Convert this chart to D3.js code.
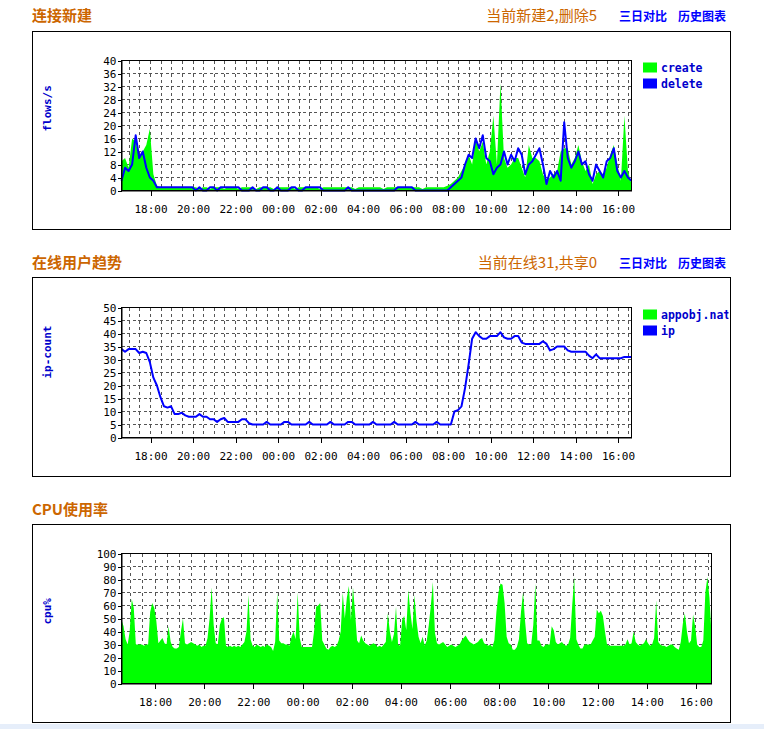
<!DOCTYPE html>
<html><head><meta charset="utf-8">
<script src="https://cdn.jsdelivr.net/npm/d3@7"></script>
<style>
body{margin:0;background:#fff;}
svg{display:block;}
</style></head><body>
<svg id="c" width="764" height="729"></svg>
<script>
// ---------- DATA ----------
const startTime = new Date(2024, 0, 1, 16, 38);
const stepMin10 = 10;   // minutes per sample (charts 1,2)
const stepMin5 = 5;     // minutes per sample (cpu)

const titles = ["连接新建", "在线用户趋势", "CPU使用率"];
const infoTexts = ["当前新建2,删除5", "当前在线31,共享0", ""];
const linkTexts = ["三日对比", "历史图表"];
const yLabels = ["flows/s", "ip-count", "cpu%"];
const yTicks1 = [0,4,8,12,16,20,24,28,32,36,40];
const yTicks2 = [0,5,10,15,20,25,30,35,40,45,50];
const yTicks3 = [0,10,20,30,40,50,60,70,80,90,100];
const legend1 = ["create", "delete"];
const legend2 = ["appobj.nat", "ip"];

const createVals = [9,10,7,16,15,10,12,14,19,5,1.5,
 1,1,1,1,1,1,1,1,1,1,
 1,0.5,1,1,0.5,1,1,1,0.5,1,
 1,1,0.5,1,1,1,1,0.5,1,1,
 1,1,0.5,1,1,1,1,1,0.5,1,
 1,1,1,1,1,0.5,1,1,1,1,
 1,1,1,1,1,0.5,1,1,1,1,
 1,1,1,0.5,1,1,1,1,1,1,
 1,1,1,1,0.5,1,1,1,1,1,
 1,1.5,
 2,3,4,6,8,11,8,16,12,15,
 8,12,23,8,33,10,7,8,10,10,
 7,4,14,10,10,9,5,3,4,5,
 6,12,13,13,8,10,14,9,6,8,
 2,5,6,5,7,11,14,8,3,23,
 6,2];

const deleteVals = [3,7,6,8,17,10,12,7,4,3,1,
 1,1,1,1,1,1,1,1,1,1,
 0,1,0,0,1,1,0,1,1,1,
 1,1,1,0,0,0,1,0,0,1,
 1,0,0,1,0,0,0,1,1,0,
 0,1,1,1,1,1,0,0,0,0,
 0,0,0,1,0,0,0,0,0,0,
 0,0,0,0,0,0,0,1,1,1,
 1,1,0,0,0,0,0,0,0,0,
 0,0,
 1,2,3,4,8,11,10,16,13,17,
 10,9,5,7,8,12,8,11,9,13,
 11,5,8,9,11,13,8,2,6,4,
 6,3,21,10,7,9,12,8,9,5,
 3,8,6,4,9,10,13,6,4,6,
 4,3];

const ipVals = [34,33,34,34,34,32.5,33,32.5,29,23,
 20,15.5,12,11.5,12,9,9,9.5,8.5,8,
 8,8,9,8,8,7,7,6,7,7.5,
 6,6,6,6,7,7,5.5,5,5,5,
 5,6,5,5,5,5,6,6,5,5,
 5,5,5,6,5,5,5,5,5,6,
 5,5,5,5,6,6,5,5,5,5,
 5,6,5,5,5,5,5,6,5,5,
 5,5,5,6,5,5,5,5,5,6,
 5,5,5,5,10,10.5,12,19,28,38,
 40.5,39,38,38,39,39,39,40.5,38.5,38,
 38,39,39,36.5,36,36,36,36,36,37,
 36,33.5,34,35,35,35,33.5,33,33,33,
 33,33,31.5,30.5,32,30.5,30.5,30.5,30.5,30.5,
 30.5,30.5,31,31,31];

const cpuVals = [49,44,34,30,40,65,58,30,30,30,
 30,29,30,30,55,62,58,48,31,33,
 35,31,30,44,32,28,27,27,28,40,
 50,31,30,31,32,31,30,29,30,28,
 29,29,35,50,74,45,31,30,45,50,
 51,29,28,29,28,29,28,29,28,30,
 32,40,68,34,29,28,30,29,28,29,
 28,30,29,28,25,32,70,33,31,31,
 30,30,29,36,40,34,70,35,28,28,
 28,28,28,28,40,59,60,62,33,30,
 27,26,28,29,28,29,33,40,70,50,
 66,75,49,74,55,33,31,37,33,31,
 30,29,30,31,30,28,29,28,30,32,
 54,40,32,38,59,30,29,49,52,41,
 72,55,42,68,48,36,31,36,29,33,
 45,60,78,39,31,30,31,32,30,28,
 29,30,29,28,29,30,33,35,37,34,
 32,31,30,31,32,34,35,31,30,29,
 30,28,33,55,70,77,76,62,36,31,
 30,26,26,28,34,55,70,48,31,30,
 30,45,77,33,33,29,28,30,30,30,
 44,41,32,30,31,32,30,29,30,35,
 60,82,34,30,27,27,30,30,30,30,
 33,36,57,54,56,52,40,30,29,29,
 29,29,29,29,29,29,30,34,30,31,
 40,32,30,29,30,31,34,31,29,30,
 35,64,32,30,29,29,28,29,30,30,
 28,27,26,32,46,54,40,31,33,53,
 44,30,28,28,33,70,82,66,38];

// ---------- LAYOUT / STYLE ----------
const COL = {orange:"#cc6600", link:"#0000ff", label:"#0000cc", green:"#00ff00", blue:"#0000ff", grid:"#555"};
const MONO = "'DejaVu Sans Mono', monospace";
const CJK = "'Noto Sans CJK SC', sans-serif";
const panels = [
  {boxTop:31.5, boxBottom:229.5, titleY:21, plotTop:60.5, plotBottom:190.5, plotRight:631.5, yMax:40, yTicks:yTicks1, legend:legend1},
  {boxTop:277.5, boxBottom:476.5, titleY:268, plotTop:307.5, plotBottom:437.5, plotRight:631.5, yMax:50, yTicks:yTicks2, legend:legend2},
  {boxTop:524.5, boxBottom:722.5, titleY:515, plotTop:553.5, plotBottom:683.5, plotRight:711.5, yMax:100, yTicks:yTicks3, legend:null}
];
const boxLeft = 32.5, boxRight = 730.5, plotLeft = 121.5;

const svg = d3.select("#c");
svg.append("rect").attr("x",0).attr("y",724).attr("width",764).attr("height",5).attr("fill","#e6eefa");

const endTime = d3.timeHour.offset(startTime, 24);
const toSeries = (vals, step) => vals.map((v,i)=>({t:d3.timeMinute.offset(startTime, i*step), v}));

const seriesSets = [
  {areas:[toSeries(createVals, stepMin10)], lines:[toSeries(deleteVals, stepMin10)]},
  {areas:[], lines:[toSeries(ipVals, stepMin10)]},
  {areas:[toSeries(cpuVals, stepMin5)], lines:[]}
];

panels.forEach((p, k) => {
  // titles
  svg.append("text").attr("x",32).attr("y",p.titleY).text(titles[k])
    .attr("font-family",CJK).attr("font-weight","bold").attr("font-size",15).attr("fill",COL.orange);
  if (infoTexts[k]) {
    svg.append("text").attr("x",597).attr("y",p.titleY).attr("text-anchor","end").text(infoTexts[k])
      .attr("font-family",CJK).attr("font-size",15).attr("fill",COL.orange);
    [619, 678].forEach((lx, j) => {
      svg.append("text").attr("x",lx).attr("y",p.titleY).text(linkTexts[j])
        .attr("font-family",CJK).attr("font-weight","bold").attr("font-size",12).attr("fill",COL.link);
    });
  }
  const clipId = "clip"+k;
  svg.append("clipPath").attr("id",clipId).append("rect")
    .attr("x",boxLeft).attr("y",p.boxTop).attr("width",boxRight-boxLeft-2).attr("height",p.boxBottom-p.boxTop);
  const g = svg.append("g").attr("clip-path",`url(#${clipId})`);

  const x = d3.scaleTime().domain([startTime, endTime]).range([plotLeft, p.plotRight]);
  const y = d3.scaleLinear().domain([0, p.yMax]).range([p.plotBottom, p.plotTop]);

  // grid
  const gridG = g.append("g").attr("stroke",COL.grid).attr("stroke-width",1).attr("shape-rendering","crispEdges");
  gridG.selectAll(".vg").data(d3.timeMinute.every(30).range(startTime, endTime)).join("line")
    .attr("x1",d=>x(d)).attr("x2",d=>x(d)).attr("y1",p.plotTop).attr("y2",p.plotBottom)
    .attr("stroke-dasharray","3,3.5");
  gridG.selectAll(".hg").data(p.yTicks.slice(1, -1)).join("line")
    .attr("x1",plotLeft).attr("x2",p.plotRight).attr("y1",d=>y(d)).attr("y2",d=>y(d))
    .attr("stroke-dasharray","3,2.5");

  // data
  const area = d3.area().x(d=>x(d.t)).y0(y(0)).y1(d=>y(d.v));
  const line = d3.line().x(d=>x(d.t)).y(d=>y(d.v));
  seriesSets[k].areas.forEach(s => g.append("path").datum(s).attr("d",area).attr("fill",COL.green));
  seriesSets[k].lines.forEach(s => g.append("path").datum(s).attr("d",line).attr("fill","none")
    .attr("stroke",COL.blue).attr("stroke-width",2).attr("stroke-linejoin","round"));

  // plot frame
  g.append("rect").attr("x",plotLeft).attr("y",p.plotTop).attr("width",p.plotRight-plotLeft)
    .attr("height",p.plotBottom-p.plotTop).attr("fill","none").attr("stroke","#000").attr("shape-rendering","crispEdges");

  // axes
  const ax = g.append("g").attr("transform",`translate(0,${p.plotBottom})`)
    .call(d3.axisBottom(x).ticks(d3.timeHour.every(2)).tickFormat(d3.timeFormat("%H:%M")).tickSize(5).tickPadding(10).tickSizeOuter(0));
  const ay = g.append("g").attr("transform",`translate(${plotLeft},0)`)
    .call(d3.axisLeft(y).tickValues(p.yTicks).tickSize(4).tickPadding(1).tickSizeOuter(0));
  [ax, ay].forEach(a => {
    a.select(".domain").attr("stroke","#000");
    a.selectAll(".tick line").attr("stroke","#000").attr("shape-rendering","crispEdges");
    a.selectAll("text").attr("font-family",MONO).attr("font-size",11).attr("fill","#000");
  });

  // y label
  const cy = (p.plotTop + p.plotBottom)/2 + 6;
  g.append("text").attr("transform",`translate(51,${cy}) rotate(-90)`).text(yLabels[k])
    .attr("font-family",MONO).attr("font-weight","bold").attr("font-size",11).attr("fill",COL.label);

  // legend
  if (p.legend) {
    const cols = [COL.green, COL.blue];
    p.legend.forEach((name, j) => {
      const ly = p.plotTop + 2 + j*16;
      g.append("rect").attr("x",643).attr("y",ly).attr("width",14).attr("height",10).attr("fill",cols[j]);
      g.append("text").attr("x",661).attr("y",ly+9).text(name)
        .attr("font-family",MONO).attr("font-weight","bold").attr("font-size",11.5).attr("fill",COL.label);
    });
  }

  // outer box
  svg.append("rect").attr("x",boxLeft).attr("y",p.boxTop).attr("width",boxRight-boxLeft)
    .attr("height",p.boxBottom-p.boxTop).attr("fill","none").attr("stroke","#000").attr("shape-rendering","crispEdges");
});
</script>
</body></html>
